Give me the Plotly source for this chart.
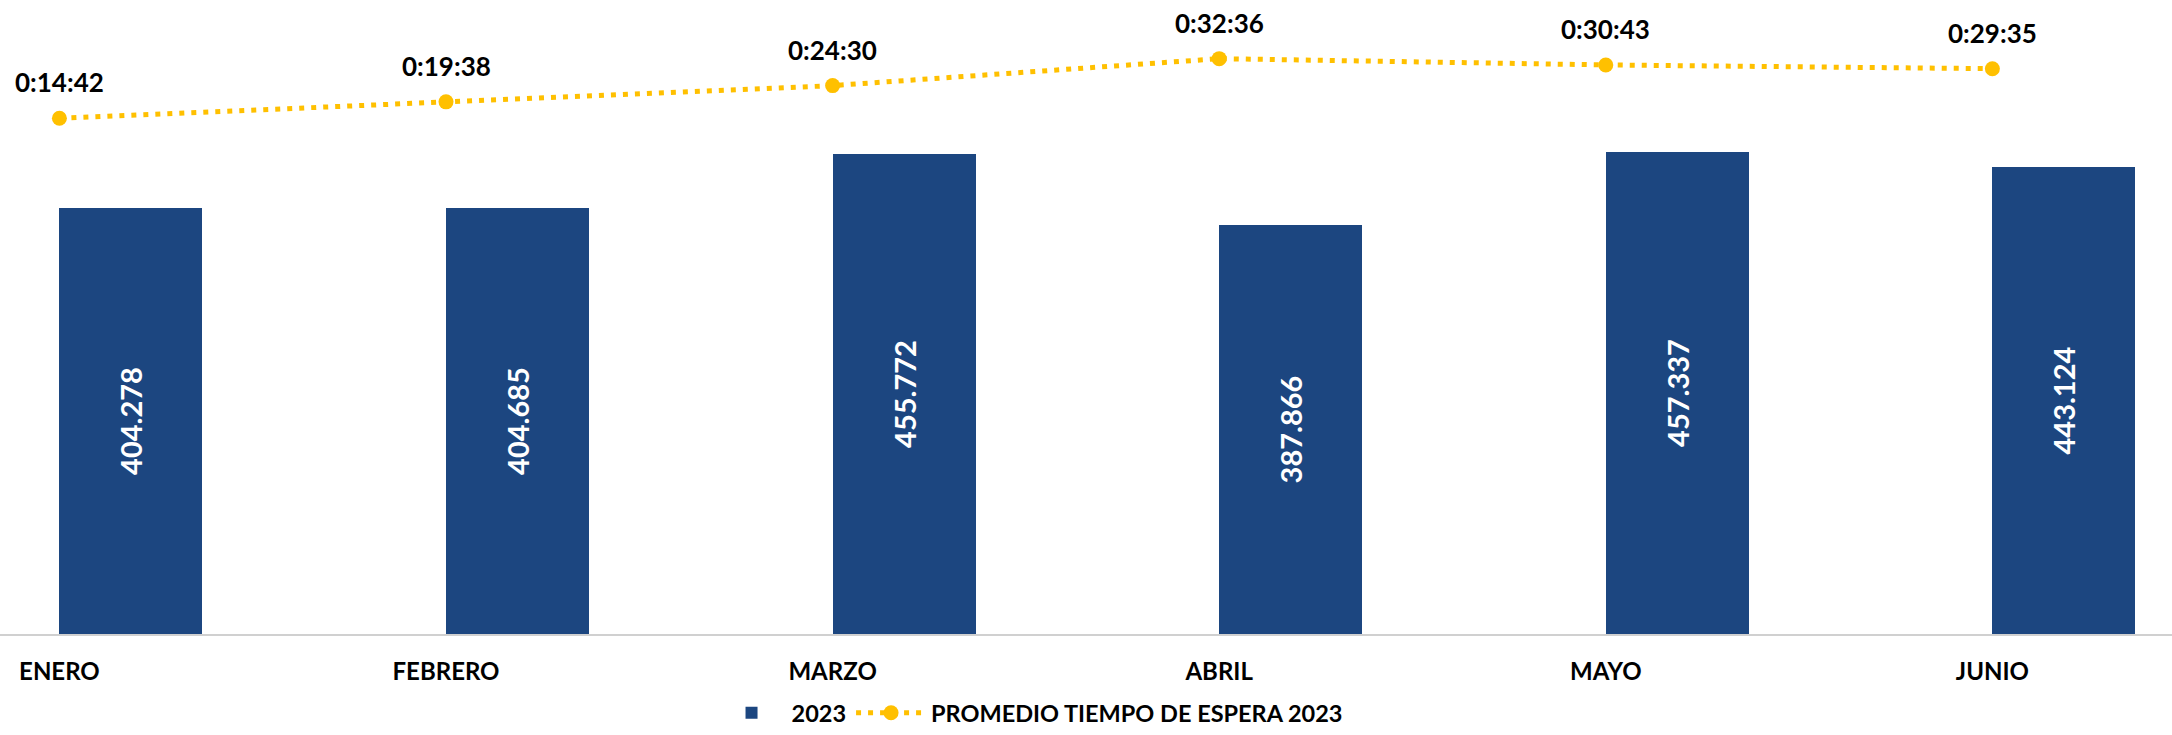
import plotly.graph_objects as go

meses = ["ENERO", "FEBRERO", "MARZO", "ABRIL", "MAYO", "JUNIO"]
llamadas_2023 = [404278, 404685, 455772, 387866, 457337, 443124]
tiempo_espera = ["0:14:42", "0:19:38", "0:24:30", "0:32:36", "0:30:43", "0:29:35"]


def to_seconds(t):
    h, m, s = (int(p) for p in t.split(":"))
    return h * 3600 + m * 60 + s


segundos = [to_seconds(t) for t in tiempo_espera]
xpos = list(range(len(meses)))
bar_text = [f"{v:,}".replace(",", ".") for v in llamadas_2023]

BAR_COLOR = "#1C4680"
LINE_COLOR = "#FFC000"
FONT = "Lato"

fig = go.Figure()
fig.add_trace(go.Bar(
    x=xpos, y=llamadas_2023, name="2023",
    marker=dict(color=BAR_COLOR, line=dict(width=0)),
    width=0.37, offset=0,
    text=bar_text, textposition="inside", insidetextanchor="middle",
    textangle=-90,
    textfont=dict(family=FONT, size=29, color="white", weight="bold"),
    yaxis="y",
))
fig.add_trace(go.Scatter(
    x=xpos, y=segundos, name="PROMEDIO TIEMPO DE ESPERA 2023",
    mode="lines+markers",
    line=dict(color=LINE_COLOR, width=5, dash="5px,7px"),
    marker=dict(color=LINE_COLOR, size=15),
    yaxis="y2", cliponaxis=False,
))
for x, s, t in zip(xpos, segundos, tiempo_espera):
    fig.add_annotation(
        x=x, y=s, xref="x", yref="y2", text=t, showarrow=False,
        yshift=36, yanchor="middle", xanchor="center",
        font=dict(family=FONT, size=26, color="black", weight="bold"),
    )

fig.update_layout(
    width=2172, height=735,
    margin=dict(l=0, r=0, t=0, b=101, autoexpand=False),
    paper_bgcolor="white", plot_bgcolor="white",
    font=dict(family=FONT, color="black"),
    xaxis=dict(
        range=[-0.1537, 5.4646], tickmode="array", tickvals=xpos, ticktext=meses,
        showgrid=False, zeroline=False, showline=True, linecolor="#D0D0D0", linewidth=2,
        ticks="", ticklabelstandoff=15,
        tickfont=dict(family=FONT, size=24, color="black", weight="bold"),
    ),
    yaxis=dict(range=[0, 601690], visible=False, showgrid=False, zeroline=False),
    yaxis2=dict(range=[-8412, 3013], overlaying="y", side="right", visible=False,
                showgrid=False, zeroline=False),
    showlegend=True,
    legend=dict(
        orientation="h", x=0.474, xanchor="center",
        yref="container", y=0.0, yanchor="bottom",
        font=dict(family=FONT, size=23.5, color="black", weight="bold"),
        itemwidth=70, traceorder="normal", tracegroupgap=0,
    ),
    bargap=0,
)

fig.write_html("out.html")
